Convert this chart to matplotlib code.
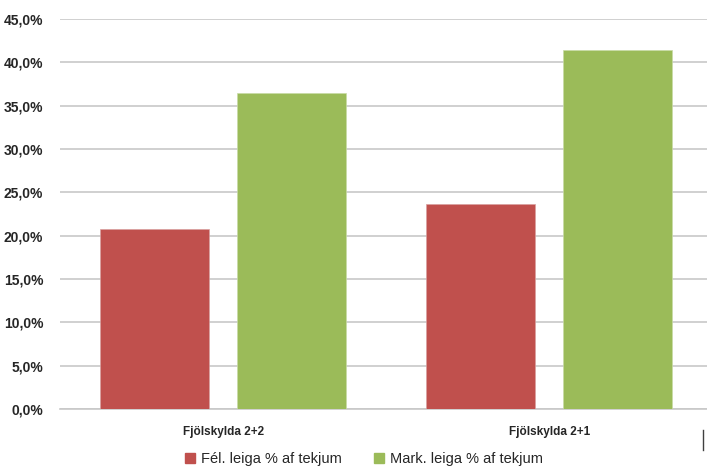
import numpy as np
import matplotlib
matplotlib.use("Agg")
import matplotlib.pyplot as plt
from matplotlib.lines import Line2D
from matplotlib.patches import Patch

categories = ["Fjölskylda 2+2", "Fjölskylda 2+1"]
fel_leiga = [20.8, 23.6]
mark_leiga = [36.5, 41.4]
series_names = ["Fél. leiga % af tekjum", "Mark. leiga % af tekjum"]
yticks = [0, 5, 10, 15, 20, 25, 30, 35, 40, 45]

red = "#C0504D"
green = "#9BBB59"
grid_col = "#C8C8C8"
txt_col = "#262626"

plt.rcParams["font.family"] = ["Liberation Sans", "DejaVu Sans"]

fig = plt.figure(figsize=(7.07, 4.66), dpi=100)
ax = fig.add_axes([60 / 707, 57 / 466, 647 / 707, 390 / 466])

x = np.arange(len(categories))
w = 0.334
off = 0.21
ax.bar(x - off, fel_leiga, w, color=red, edgecolor="#D8A0A0", linewidth=0.5, zorder=3)
ax.bar(x + off, mark_leiga, w, color=green, edgecolor="#C8DBA6", linewidth=0.5, zorder=3)

ax.set_ylim(0, 45)
ax.set_xlim(-0.5, 1.5 - 5.5 / 326.5)
ax.set_yticks(yticks)
ax.set_yticklabels([f"{v:.1f}%".replace(".", ",") for v in yticks],
                   fontsize=10, fontweight="bold", color=txt_col)
ax.set_xticks(x)
ax.set_xticklabels(categories, fontsize=8.5, fontweight="bold", color=txt_col)
ax.tick_params(axis="both", length=0)
ax.tick_params(axis="y", pad=12)
ax.tick_params(axis="x", pad=12)

ax.grid(axis="y", color=grid_col, linewidth=1.2, zorder=0)
for s in ["top", "right", "left"]:
    ax.spines[s].set_visible(False)
ax.spines["bottom"].set_color(grid_col)
ax.spines["bottom"].set_linewidth(1.2)

handles = [Patch(color=red), Patch(color=green)]
fig.legend(handles, series_names, loc="center", bbox_to_anchor=(364 / 707, 7 / 466),
           ncol=2, frameon=False, fontsize=10.5, handlelength=0.7, handleheight=0.7,
           handletextpad=0.4, columnspacing=2.2, labelcolor=txt_col)

fig.add_artist(Line2D([703 / 707, 703 / 707], [16 / 466, 36 / 466], color="#404040",
                      linewidth=1, transform=fig.transFigure))

fig.savefig("out.png", dpi=100)
